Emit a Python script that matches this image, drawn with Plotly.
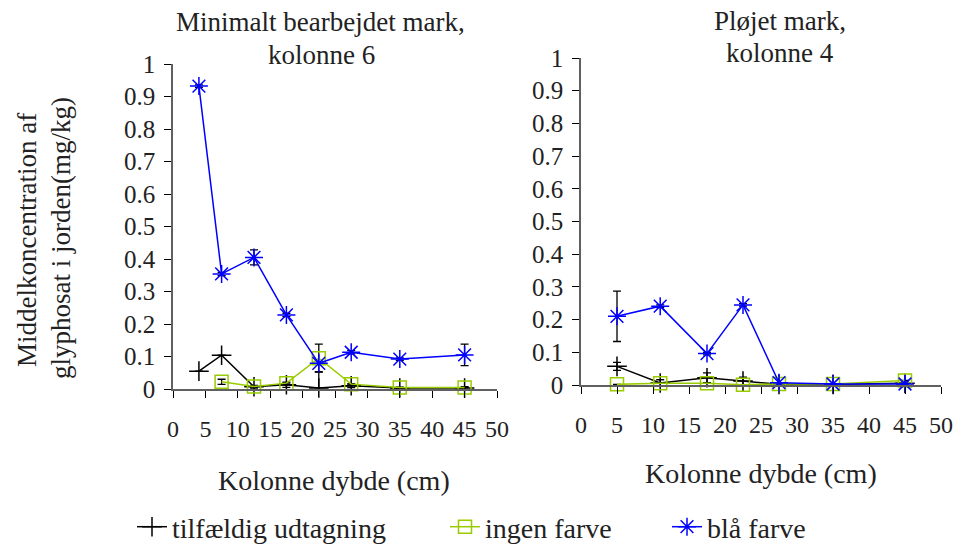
import plotly.graph_objects as go

# ---- data: left panel (Minimalt bearbejdet mark, kolonne 6)
x_left_black = [4, 7.5, 12.5, 17.5, 22.5, 27.5, 35, 45]
y_left_black = [0.055, 0.104, 0.007, 0.013, 0.003, 0.010, 0.003, 0.003]
e_left_black = [0, 0, 0.004, 0.008, 0.05, 0.006, 0.003, 0.004]

x_left_green = [7.5, 12.5, 17.5, 22.5, 27.5, 35, 45]
y_left_green = [0.022, 0.008, 0.018, 0.095, 0.015, 0.005, 0.005]
e_left_green = [0.008, 0, 0, 0.043, 0, 0, 0]

x_left_blue = [4, 7.5, 12.5, 17.5, 22.5, 27.5, 35, 45]
y_left_blue = [0.932, 0.354, 0.405, 0.228, 0.079, 0.113, 0.092, 0.105]
e_left_blue = [0.004, 0.005, 0.023, 0.005, 0, 0.005, 0.004, 0.033]

# ---- data: right panel (Pløjet mark, kolonne 4)
x_right = [5, 11, 17.5, 22.5, 27.5, 35, 45]
y_right_black = [0.057, 0.006, 0.022, 0.012, 0.002, 0.002, 0.005]
e_right_black = [0.012, 0.01, 0.015, 0.012, 0.002, 0.002, 0.008]
y_right_green = [0.002, 0.005, 0.005, 0.001, 0.003, 0.003, 0.014]
e_right_green = [0, 0, 0, 0, 0, 0, 0]
y_right_blue = [0.21, 0.241, 0.096, 0.245, 0.007, 0.003, 0.003]
e_right_blue = [0.077, 0.004, 0.004, 0.004, 0, 0, 0]

series_names = ["tilfældig udtagning", "ingen farve", "blå farve"]
x_ticks = [0, 5, 10, 15, 20, 25, 30, 35, 40, 45, 50]
y_ticks = [0, 0.1, 0.2, 0.3, 0.4, 0.5, 0.6, 0.7, 0.8, 0.9, 1]

FONT = "Liberation Serif, serif"
TXT = "#222222"
BLACK = "#000000"
GREEN = "#99CC00"
BLUE = "#0000FF"

styles = [
    dict(color=BLACK, symbol="cross-thin-open", size=14),
    dict(color=GREEN, symbol="square-open", size=13),
    dict(color=BLUE, symbol="asterisk-open", size=15),
]
legend_ids = ["legend", "legend2", "legend3"]

fig = go.Figure()

def add(xs, ys, es, idx, xa, ya, show):
    st = styles[idx]
    fig.add_trace(go.Scatter(
        x=xs, y=ys, mode="lines+markers", name=series_names[idx],
        xaxis=xa, yaxis=ya, showlegend=show, legend=legend_ids[idx],
        line=dict(color=st["color"], width=1.5),
        marker=dict(symbol=st["symbol"], size=st["size"],
                    line=dict(color=st["color"], width=1.5), color=st["color"]),
        error_y=dict(type="data", array=es, visible=True, color="black",
                     thickness=1.3, width=4),
        cliponaxis=False,
    ))

add(x_left_black, y_left_black, e_left_black, 0, "x", "y", True)
add(x_left_green, y_left_green, e_left_green, 1, "x", "y", True)
add(x_left_blue, y_left_blue, e_left_blue, 2, "x", "y", True)
add(x_right, y_right_black, e_right_black, 0, "x2", "y2", False)
add(x_right, y_right_green, e_right_green, 1, "x2", "y2", False)
add(x_right, y_right_blue, e_right_blue, 2, "x2", "y2", False)

W, H = 970, 544
def px_x(p): return p / W
def px_y(p): return 1 - p / H

axis_common = dict(showgrid=False, zeroline=False, showline=True,
                   linecolor="#606060", linewidth=1.5,
                   ticks="outside", tickcolor="black", ticklen=7, tickwidth=1)
xfont = dict(family=FONT, size=24, color=TXT)
yfont = dict(family=FONT, size=25, color=TXT)

def legend_at(x):
    return dict(orientation="h", x=px_x(x), y=px_y(527), xanchor="left",
                yanchor="middle", font=dict(family=FONT, size=28, color=TXT),
                bgcolor="rgba(0,0,0,0)", borderwidth=0)

fig.update_layout(
    width=W, height=H, margin=dict(l=0, r=0, t=0, b=0, autoexpand=False),
    paper_bgcolor="white", plot_bgcolor="white",
    font=dict(family=FONT, size=24, color=TXT),
    xaxis=dict(domain=[px_x(173), px_x(497)], range=[0, 50], tickvals=x_ticks,
               anchor="y", ticklabelstandoff=10, tickfont=xfont, **axis_common),
    yaxis=dict(domain=[px_y(389), px_y(64)], range=[0, 1], tickvals=y_ticks,
               anchor="x", ticklabelstandoff=4, tickfont=yfont, **axis_common),
    xaxis2=dict(domain=[px_x(581), px_x(941)], range=[0, 50], tickvals=x_ticks,
                anchor="y2", ticklabelstandoff=10, tickfont=xfont, **axis_common),
    yaxis2=dict(domain=[px_y(385), px_y(58)], range=[0, 1], tickvals=y_ticks,
                anchor="x2", ticklabelstandoff=4, tickfont=yfont, **axis_common),
    legend=legend_at(132),
    legend2=legend_at(445),
    legend3=legend_at(667),
)

def ann(text, x, y, size=27, angle=0):
    fig.add_annotation(text=text, x=px_x(x), y=px_y(y), xref="paper", yref="paper",
                       showarrow=False, textangle=angle, xanchor="center", yanchor="middle",
                       font=dict(family=FONT, size=size, color=TXT))

ann("Minimalt bearbejdet mark,", 320, 22, 27)
ann("kolonne 6", 321, 55, 27)
ann("Pløjet mark,", 780, 21, 27)
ann("kolonne 4", 780, 53, 27)
ann("Kolonne dybde (cm)", 334, 480, 28)
ann("Kolonne dybde (cm)", 761, 473, 28)
ann("Middelkoncentration af", 27, 240, 27, -90)
ann("glyphosat i jorden(mg/kg)", 61, 238, 27, -90)

fig.write_html("out.html")
